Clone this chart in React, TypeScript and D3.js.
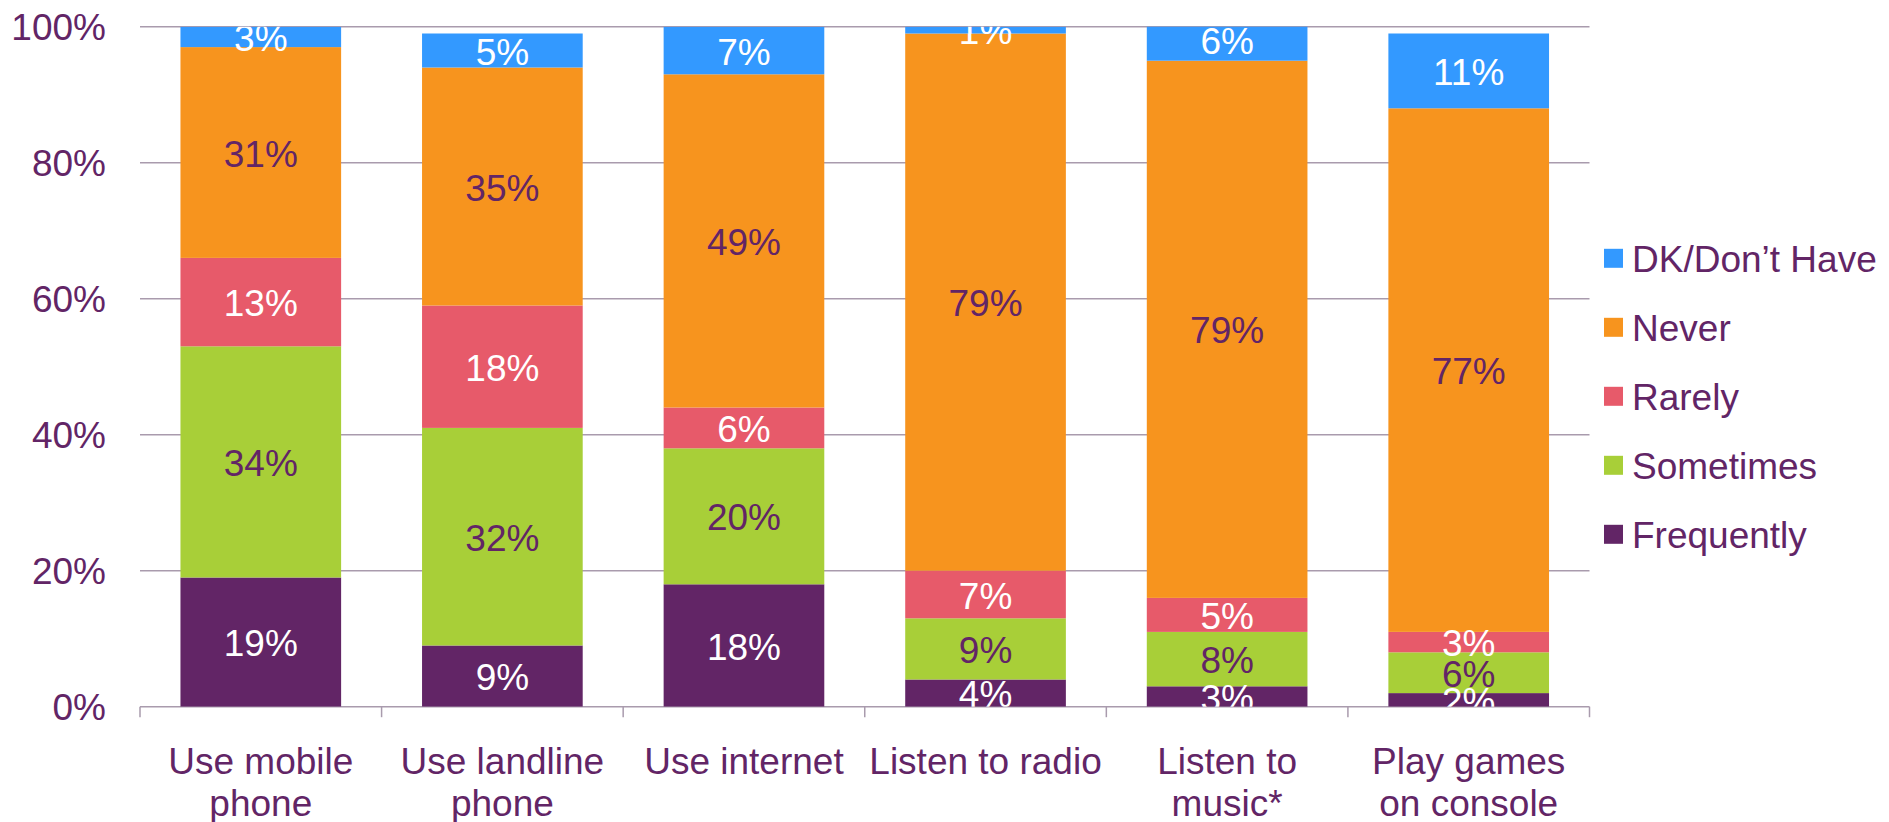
import React from "react";
import * as d3 from "d3";

const categories = [
  "Use mobile\nphone",
  "Use landline\nphone",
  "Use internet",
  "Listen to radio",
  "Listen to\nmusic*",
  "Play games\non console",
];
const seriesNames = ["Frequently", "Sometimes", "Rarely", "Never", "DK/Don\u2019t Have"];
const frequently = [19, 9, 18, 4, 3, 2];
const sometimes = [34, 32, 20, 9, 8, 6];
const rarely = [13, 18, 6, 7, 5, 3];
const never = [31, 35, 49, 79, 79, 77];
const dk = [3, 5, 7, 1, 6, 11];
const yTicks = [0, 20, 40, 60, 80, 100];

const seriesValues = [frequently, sometimes, rarely, never, dk];
const colors = ["#622566", "#A8CF38", "#E75A6A", "#F7941E", "#3399FF"];
const labelColors = ["#FFFFFF", "#622566", "#FFFFFF", "#622566", "#FFFFFF"];
const TEXT = "#622566";
const GRID = "#A99BAD";
const FONT = "'Liberation Sans', Arial, sans-serif";

export default function App() {
  const W = 1889, H = 822;
  const left = 140, right = 1589.5, top = 26.7, bottom = 706.7;
  const x = d3.scaleBand<number>().domain(d3.range(categories.length)).range([left, right]).paddingInner(0.335).paddingOuter(0.1675);
  const y = d3.scaleLinear().domain([0, 100]).range([bottom, top]);
  const step = x.step();
  const fs = 37;

  const table = categories.map((c, i) => {
    const o: any = { cat: i };
    seriesNames.forEach((s, k) => (o[s] = seriesValues[k][i]));
    return o;
  });
  const stacked = d3.stack<any>().keys(seriesNames)(table);

  return (
    <svg width={W} height={H} style={{ position: "absolute", left: 0, top: 0, display: "block", background: "#fff" }} fontFamily={FONT}>
      <defs>
        <clipPath id="plotclip">
          <rect x={left} y={top} width={right - left} height={bottom - top} />
        </clipPath>
      </defs>
      {yTicks.map((t) => (
        <g key={t}>
          <line x1={left} x2={right} y1={y(t)} y2={y(t)} stroke={GRID} strokeWidth={1.5} />
          <text x={106} y={y(t)} dy="0.36em" textAnchor="end" fontSize={fs} fill={TEXT}>
            {t}%
          </text>
        </g>
      ))}
      {d3.range(categories.length + 1).map((i) => (
        <line key={i} x1={left + i * step} x2={left + i * step} y1={bottom} y2={bottom + 10.5} stroke={GRID} strokeWidth={1.5} />
      ))}
      <g clipPath="url(#plotclip)">
        {stacked.map((layer, k) =>
          layer.map((d, i) => (
            <rect key={k + "-" + i} x={x(i)} y={y(d[1])} width={x.bandwidth()} height={y(d[0]) - y(d[1])} fill={colors[k]} />
          ))
        )}
        {stacked.map((layer, k) =>
          layer.map((d, i) => (
            <text
              key={"t" + k + "-" + i}
              x={(x(i) as number) + x.bandwidth() / 2}
              y={y((d[0] + d[1]) / 2)}
              dy="0.38em"
              textAnchor="middle"
              fontSize={fs}
              fill={labelColors[k]}
            >
              {seriesValues[k][i]}%
            </text>
          ))
        )}
      </g>
      {categories.map((c, i) => (
        <text key={c} x={(x(i) as number) + x.bandwidth() / 2} y={774} textAnchor="middle" fontSize={fs} fill={TEXT}>
          {c.split("\n").map((ln, j) => (
            <tspan key={j} x={(x(i) as number) + x.bandwidth() / 2} dy={j === 0 ? 0 : 42}>
              {ln}
            </tspan>
          ))}
        </text>
      ))}
      {seriesNames
        .slice()
        .reverse()
        .map((s, j) => {
          const k = seriesNames.length - 1 - j;
          const cy = 258.3 + j * 69;
          return (
            <g key={s}>
              <rect x={1604} y={cy - 9.5} width={19} height={19} fill={colors[k]} />
              <text x={1632} y={cy} dy="0.36em" fontSize={fs} fill={TEXT}>
                {s}
              </text>
            </g>
          );
        })}
    </svg>
  );
}
